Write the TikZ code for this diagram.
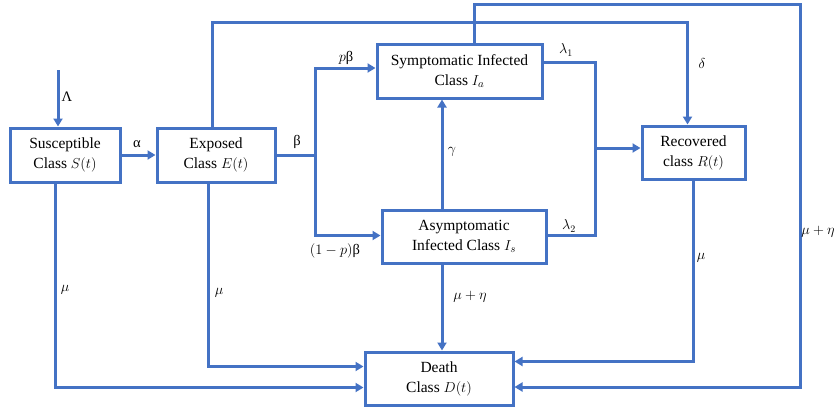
\documentclass[tikz,border=0pt]{standalone}
\usepackage{fontspec}
\setmainfont{Liberation Serif}
\usetikzlibrary{arrows.meta}
\definecolor{bl}{HTML}{4472C4}
\begin{document}
\begin{tikzpicture}[x=1pt,y=-1pt,
  box/.style={draw=bl,line width=3pt,fill=white,align=center,inner sep=0pt,
    font=\fontsize{15.5}{20}\selectfont},
  ln/.style={draw=bl,line width=3pt},
  arr/.style={ln,-{Triangle[length=8pt,width=9pt]}},
  lab/.style={font=\fontsize{14.5}{16}\selectfont,inner sep=0pt}]
\useasboundingbox (0,0) rectangle (840,407);
% boxes
\node[box,minimum width=110pt,minimum height=54pt] (S) at (65,155) {Susceptible\\Class $S(t)$};
\node[box,minimum width=118pt,minimum height=54pt] (E) at (216,155) {Exposed\\Class $E(t)$};
\node[box,minimum width=165pt,minimum height=54pt] (Ia) at (459.5,71) {Symptomatic Infected\\Class $I_a$};
\node[box,minimum width=164pt,minimum height=53pt] (Is) at (464,236.5) {Asymptomatic\\Infected Class $I_s$};
\node[box,minimum width=103pt,minimum height=53pt] (R) at (693.5,152.5) {Recovered\\class $R(t)$};
\node[box,minimum width=148pt,minimum height=53pt] (D) at (439,378.5) {Death\\Class $D(t)$};
% helper coordinates
\coordinate (lamtop) at (58,70);
\coordinate (jb) at (315,153);
\coordinate (jr) at (595,148);
\coordinate (ty1) at (0,22);
\coordinate (ty2) at (0,4);
\coordinate (rt) at (800,387);
% connectors
\draw[arr] (lamtop) -- (lamtop |- S.north);
\draw[arr] (S.east) -- (E.west);
\draw[ln] (E.east) -- (E.east -| jb);
\draw[arr] (E.east -| jb) |- ([yshift=3pt]Ia.west);
\draw[arr] (E.east -| jb) |- ([yshift=1pt]Is.west);
\draw[ln] ([yshift=9pt]Ia.east) -| ([yshift=1pt]Is.east -| jr) -- ([yshift=1pt]Is.east);
\draw[arr] (jr) -- (jr -| R.west);
\draw[arr] ([xshift=-22pt]Is.north) -- ([xshift=-22pt]Is.north |- Ia.south);
\draw[arr] ([xshift=-22pt]Is.south) -- ([xshift=-22pt]Is.south |- D.north);
\draw[arr] ([xshift=-4pt]E.north) |- ([xshift=-6pt]R.north |- ty1) -- ([xshift=-6pt]R.north);
\draw[arr] ([xshift=15pt]Ia.north) |- (rt |- ty2) -- (rt) -- (rt -| D.east);
\draw[arr] (R.south) |- ([yshift=17pt]D.east);
\draw[arr] ([xshift=-10pt]S.south) |- ([yshift=-9pt]D.west);
\draw[arr] ([xshift=-8pt]E.south) |- ([yshift=12pt]D.west);
% labels
\node[lab] (l1) at (67,97) {Λ};
\node[lab] (l2) at (137,144) {α};
\node[lab] (l3) at (297,142) {β};
\node[lab] (l4) at (346,58) {$p$β};
\node[lab] (l5) at (335,251) {$(1-p)$β};
\node[lab] (l6) at (566,50) {$\lambda_1$};
\node[lab] (l7) at (569,226) {$\lambda_2$};
\node[lab] (l8) at (452,152) {$\gamma$};
\node[lab] (l9) at (702,63) {$\delta$};
\node[lab] (l10) at (470,297) {$\mu+\eta$};
\node[lab] (l11) at (701,258) {$\mu$};
\node[lab] (l12) at (818,232) {$\mu+\eta$};
\node[lab] (l13) at (65,290) {$\mu$};
\node[lab] (l14) at (219,293) {$\mu$};
\end{tikzpicture}
\end{document}
